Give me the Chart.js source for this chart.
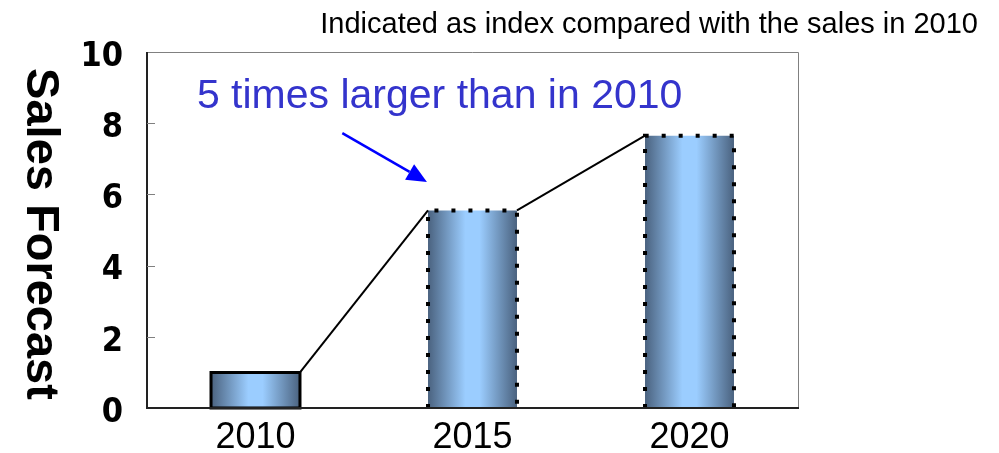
<!DOCTYPE html>
<html>
<head>
<meta charset="utf-8">
<script src="https://cdn.jsdelivr.net/npm/chart.js@4/dist/chart.umd.min.js"></script>
<style>
  html, body { margin: 0; padding: 0; background: #fff; }
  #wrap { width: 999px; height: 453px; }
</style>
</head>
<body>
<div id="wrap"><canvas id="chart-sales" width="999" height="453"></canvas></div>
<script>
  const years = ['2010', '2015', '2020'];
  const salesIndex = [1, 5.55, 7.65];
  const borderStyles = ['solid', 'dotted', 'dotted'];
  const yMin = 0, yMax = 10, yStep = 2;

  const noteText = 'Indicated as index compared with the sales in 2010';
  const yTitle = 'Sales Forecast';
  const calloutText = '5 times larger than in 2010';
  // callout placed in data coords (category index, value)
  const calloutAt = { x: -0.27, y: 8.74 };
  const arrowFrom = { x: 0.40, y: 7.72 };
  const arrowTo = { x: 0.79, y: 6.35 };

  const COLORS = {
    edge: '#4a627f',
    center: '#9bcdff',
    ink: '#000000',
    frame: '#808080',
    callout: '#3434cc',
    arrow: '#0000ff'
  };
  const BAR_PCT = 0.41;
  const SANS = "'Liberation Sans', Arial, sans-serif";
  const NARROW = "'Liberation Sans Narrow', 'DejaVu Sans Condensed', sans-serif";

  function makeGradient(ctx, left, right) {
    const g = ctx.createLinearGradient(left, 0, right, 0);
    g.addColorStop(0, COLORS.edge);
    g.addColorStop(0.42, COLORS.center);
    g.addColorStop(0.58, COLORS.center);
    g.addColorStop(1, COLORS.edge);
    return g;
  }

  function barGradient(ctx) {
    const chart = ctx.chart;
    const xs = chart.scales.x;
    if (!xs || ctx.dataIndex == null) return COLORS.center;
    const cx = xs.getPixelForValue(ctx.dataIndex);
    const w = xs.width / years.length * BAR_PCT;
    if (!isFinite(cx) || !isFinite(w) || w <= 0) return COLORS.center;
    return makeGradient(chart.ctx, cx - w / 2, cx + w / 2);
  }

  const decorPlugin = {
    id: 'decor',
    beforeDatasetsDraw(chart) {
      // refresh gradients now that the layout is final
      chart.getDatasetMeta(0).data.forEach(bar => {
        bar.options.backgroundColor = makeGradient(chart.ctx, bar.x - bar.width / 2, bar.x + bar.width / 2);
      });
    },
    afterDatasetsDraw(chart) {
      const ctx = chart.ctx;
      const area = chart.chartArea;
      const xs = chart.scales.x, ys = chart.scales.y;
      const bars = chart.getDatasetMeta(0).data;

      ctx.save();
      // series lines between bar tops
      ctx.strokeStyle = COLORS.ink;
      ctx.lineWidth = 2;
      ctx.setLineDash([]);
      for (let i = 0; i < bars.length - 1; i++) {
        const a = bars[i], b = bars[i + 1];
        ctx.beginPath();
        ctx.moveTo(a.x + a.width / 2, a.y);
        ctx.lineTo(b.x - b.width / 2, b.y);
        ctx.stroke();
      }

      // bar outlines
      bars.forEach((bar, i) => {
        const l = bar.x - bar.width / 2, r = bar.x + bar.width / 2;
        ctx.strokeStyle = COLORS.ink;
        ctx.beginPath();
        if (borderStyles[i] === 'dotted') {
          ctx.lineWidth = 4;
          ctx.setLineDash([4, 13]);
          ctx.moveTo(l, bar.base);
          ctx.lineTo(l, bar.y);
          ctx.lineTo(r, bar.y);
          ctx.lineTo(r, bar.base);
        } else {
          ctx.lineWidth = 3;
          ctx.setLineDash([]);
          ctx.rect(l, bar.y, bar.width, bar.base - bar.y);
        }
        ctx.stroke();
      });
      ctx.setLineDash([]);

      // plot frame
      ctx.strokeStyle = COLORS.frame;
      ctx.lineWidth = 1;
      ctx.beginPath();
      ctx.moveTo(area.left, area.top + 0.5);
      ctx.lineTo(area.right + 0.5, area.top + 0.5);
      ctx.lineTo(area.right + 0.5, area.bottom);
      ctx.stroke();
      ctx.strokeStyle = '#222';
      ctx.lineWidth = 2;
      ctx.beginPath();
      ctx.moveTo(area.left, area.top);
      ctx.lineTo(area.left, area.bottom);
      ctx.lineTo(area.right + 1, area.bottom);
      ctx.stroke();

      // inward tick marks
      ctx.strokeStyle = COLORS.frame;
      ctx.lineWidth = 1;
      for (let v = yMin + yStep; v < yMax; v += yStep) {
        const y = Math.round(ys.getPixelForValue(v)) + 0.5;
        ctx.beginPath();
        ctx.moveTo(area.left, y);
        ctx.lineTo(area.left + 8, y);
        ctx.stroke();
      }

      // callout text
      ctx.fillStyle = COLORS.callout;
      ctx.font = '41px ' + SANS;
      ctx.textAlign = 'left';
      ctx.textBaseline = 'middle';
      ctx.fillText(calloutText, xs.getPixelForValue(calloutAt.x), ys.getPixelForValue(calloutAt.y));

      // arrow
      const x0 = xs.getPixelForValue(arrowFrom.x), y0 = ys.getPixelForValue(arrowFrom.y);
      const x1 = xs.getPixelForValue(arrowTo.x), y1 = ys.getPixelForValue(arrowTo.y);
      const ang = Math.atan2(y1 - y0, x1 - x0);
      const headLen = 20, headW = 9;
      ctx.strokeStyle = COLORS.arrow;
      ctx.fillStyle = COLORS.arrow;
      ctx.lineWidth = 2.5;
      ctx.beginPath();
      ctx.moveTo(x0, y0);
      ctx.lineTo(x1 - headLen * Math.cos(ang), y1 - headLen * Math.sin(ang));
      ctx.stroke();
      ctx.beginPath();
      ctx.moveTo(x1, y1);
      ctx.lineTo(x1 - headLen * Math.cos(ang) + headW * Math.sin(ang), y1 - headLen * Math.sin(ang) - headW * Math.cos(ang));
      ctx.lineTo(x1 - headLen * Math.cos(ang) - headW * Math.sin(ang), y1 - headLen * Math.sin(ang) + headW * Math.cos(ang));
      ctx.closePath();
      ctx.fill();

      // y axis title, reading top to bottom
      ctx.fillStyle = COLORS.ink;
      ctx.font = 'bold 47px ' + SANS;
      ctx.translate(27, (area.top + area.bottom) / 2 + 4);
      ctx.rotate(Math.PI / 2);
      ctx.textAlign = 'center';
      ctx.textBaseline = 'alphabetic';
      ctx.fillText(yTitle, 0, 0);
      ctx.restore();

      // note top right
      ctx.save();
      ctx.fillStyle = COLORS.ink;
      ctx.font = '29px ' + SANS;
      ctx.textAlign = 'right';
      ctx.textBaseline = 'alphabetic';
      ctx.fillText(noteText, chart.width - 21, 33);
      ctx.restore();
    }
  };

  new Chart(document.getElementById('chart-sales'), {
    type: 'bar',
    data: {
      labels: years,
      datasets: [{
        data: salesIndex,
        backgroundColor: barGradient,
        borderWidth: 0,
        categoryPercentage: 1,
        barPercentage: BAR_PCT
      }]
    },
    options: {
      responsive: false,
      animation: false,
      events: [],
      layout: { padding: { left: 0, right: 201, top: 52, bottom: 0 } },
      plugins: { legend: { display: false }, tooltip: { enabled: false } },
      scales: {
        x: {
          grid: { display: false, drawTicks: false },
          border: { display: false },
          ticks: { color: COLORS.ink, font: { family: SANS, size: 36 }, padding: 8 },
          afterFit(scale) { scale.height = 45; }
        },
        y: {
          min: yMin,
          max: yMax,
          grid: { display: false, drawTicks: false },
          border: { display: false },
          ticks: {
            stepSize: yStep,
            color: COLORS.ink,
            font: { family: NARROW, size: 34, weight: 'bold' },
            padding: 24,
            labelOffset: 5
          },
          afterFit(scale) { scale.width = 147; }
        }
      }
    },
    plugins: [decorPlugin]
  });
</script>
</body>
</html>
